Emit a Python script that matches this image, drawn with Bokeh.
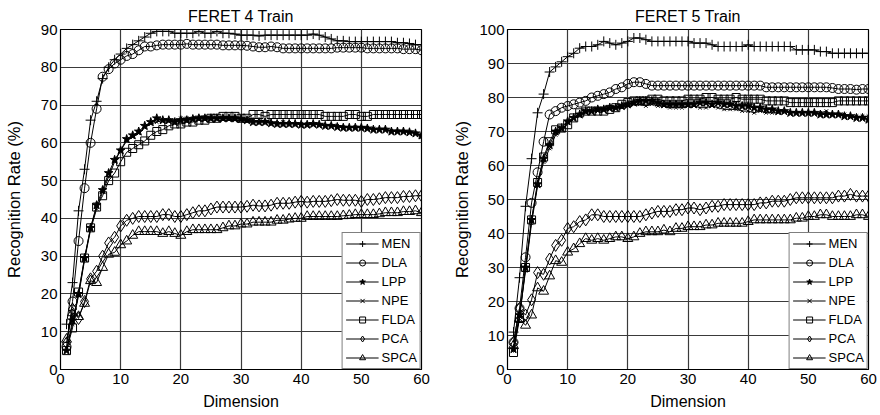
from bokeh.plotting import figure
from bokeh.layouts import row
from bokeh.models import Legend, LegendItem, FixedTicker, Range1d
from bokeh.embed import file_html
from bokeh.resources import INLINE

dims = list(range(1, 61))
methods = ["MEN", "DLA", "LPP", "NPE", "FLDA", "PCA", "SPCA"]
x_ticks = [0, 10, 20, 30, 40, 50, 60]
y_ticks_4 = [0, 10, 20, 30, 40, 50, 60, 70, 80, 90]
y_ticks_5 = [0, 10, 20, 30, 40, 50, 60, 70, 80, 90, 100]

# ---- FERET 4 Train ----
men4 = [12, 23, 42, 53, 66, 71, 77, 80, 82, 83.5,
        85, 86, 87, 88, 89, 89.5, 89.5, 89.5, 89, 89,
        89, 89, 89.5, 89, 89, 89.5, 89, 89, 88.8, 88.5,
        88.5, 88.5, 88.3, 88.5, 88.5, 88.5, 88.5, 88.5, 88.5, 88.5,
        88.5, 88.8, 88.5, 88, 87.5, 87, 87, 86.8, 86.8, 86.8,
        86.8, 86.8, 86.8, 86.8, 86.8, 86.5, 86.5, 86.3, 86, 86]
dla4 = [6, 18, 34, 48, 60, 69, 77.5, 79.5, 81, 82,
        83, 83.5, 84.5, 85.5, 85.5, 85.8, 86, 86, 86, 86,
        86.2, 86, 86, 86, 86, 86, 85.8, 85.8, 85.8, 85.8,
        85.7, 85.5, 85.3, 85.3, 85.5, 85.3, 85, 85, 85, 85,
        85, 85, 85, 85, 85, 85.2, 85.2, 85.2, 85.2, 85.2,
        85, 85, 85, 85, 85, 85, 84.8, 84.8, 84.8, 84.5]
lpp4 = [5, 13, 20, 29.5, 37.5, 43.5, 47.5, 52, 55.5, 58,
        61, 62, 63, 64.5, 65.5, 66.5, 66, 66, 65.5, 66,
        66, 66.3, 66.5, 66.5, 66.5, 66.5, 66.5, 66.5, 66.5, 66.3,
        66, 65.5, 65.5, 65.5, 65.2, 65, 65, 65, 65, 64.8,
        64.8, 65, 64.8, 64.5, 64.5, 64.2, 64, 64, 64, 64,
        63.8, 63.5, 63.5, 63.5, 63, 63, 63, 62.8, 62.5, 62]
npe4 = [5, 12, 19.5, 29, 37, 42.5, 47, 51, 55, 58,
        60.5, 61.5, 62.5, 64, 65, 65.5, 66, 66, 66, 66.5,
        66.5, 66.5, 66.5, 66.8, 66.8, 66.5, 66.5, 66.3, 66, 66,
        65.8, 65.8, 65.5, 65.5, 65.3, 65.3, 65.5, 65.3, 65, 65,
        65, 64.8, 64.8, 64.5, 64.5, 64.5, 64.2, 64, 64.2, 64,
        64, 63.8, 63.5, 63.5, 63.2, 63, 62.8, 62.8, 62.5, 61.5]
flda4 = [5, 11, 20.5, 29.5, 37.5, 43, 46, 50, 52, 55,
         57.5, 58.5, 59.5, 60.5, 62, 63, 63.5, 64.5, 65, 65,
         65.5, 65.5, 66, 66, 66.5, 66.5, 67, 67, 67, 66.5,
         66.5, 67.5, 67.5, 67, 67.5, 67.5, 67.5, 67.5, 67.5, 67.5,
         67.5, 67.5, 67.5, 67, 67, 67, 67, 67.5, 67.5, 67,
         67, 67.5, 67.5, 67.5, 67.5, 67.5, 67.5, 67.5, 67.5, 67.5]
pca4 = [7, 16, 13.5, 18, 24, 26, 30, 33.5, 35, 38,
        39.5, 40, 40.5, 40.5, 40.5, 40.5, 41, 41, 40.5, 40.5,
        41, 41.5, 42, 42, 42.5, 43, 43, 43, 43, 43,
        43.2, 43.5, 43.3, 43.3, 43.5, 44, 44, 44, 44.3, 44.5,
        44.3, 44.5, 44.5, 44.5, 44.7, 45, 44.8, 44.8, 44.8, 44.5,
        45, 45, 45.2, 45.5, 45.5, 45.5, 45.8, 45.8, 46, 46]
spca4 = [8, 15, 14, 17.5, 23.5, 23, 27, 30.5, 31, 33,
         34, 35.5, 36.5, 36.5, 36.5, 36.5, 36, 36.5, 36, 35.5,
         36.5, 37, 37, 37, 37, 37, 37.5, 38, 38, 38.5,
         38.5, 39, 39, 39, 39, 39.5, 39.5, 39.8, 40, 40,
         40.5, 40.5, 40.5, 40.5, 40.5, 40.5, 40.7, 40.8, 41, 41,
         41, 41, 41.2, 41.5, 41.5, 41.5, 41.8, 41.8, 42, 41.5]

# ---- FERET 5 Train ----
men5 = [11, 27, 48, 62, 75.5, 81, 87.5, 89, 90.5, 92,
        93, 94.5, 95, 95, 95.5, 96.5, 96, 95.5, 96, 96.5,
        97.5, 97.5, 97, 96.5, 96.5, 96.5, 96.5, 96.5, 96.5, 96.5,
        96, 96, 96, 95.5, 95, 95, 95, 95, 95, 95.5,
        95, 95, 95, 95, 95, 95, 95, 94, 94, 94,
        94, 93.5, 93.5, 93, 93, 93, 93, 93, 93, 93]
dla5 = [8, 18, 33, 49, 58, 67, 75, 76, 77, 77.5,
        78, 78.5, 79, 80, 80.5, 81, 81.5, 82.5, 83, 84,
        84.5, 84.5, 84, 83.5, 83.5, 83.5, 83.5, 83.5, 83.5, 83.5,
        83.5, 83.5, 83.5, 83.5, 83.5, 83.5, 83.5, 83.5, 83.5, 83.5,
        83.5, 83.5, 83, 83, 83, 83, 83, 83, 83, 83,
        83, 83, 83, 82.8, 82.5, 82.5, 82.5, 82.3, 82.5, 82.5]
lpp5 = [6, 16, 30, 44, 54.5, 62, 66, 70, 71, 73,
        74, 75, 76, 76, 76.5, 76.5, 77, 77, 77.5, 78,
        78.5, 79, 79, 79, 78.5, 78, 78, 78, 78, 78,
        78, 78.5, 78.5, 78, 78.5, 78, 78, 77.5, 77.5, 77.5,
        77, 77, 76.5, 76.5, 76, 76, 75.5, 75.5, 75.5, 75.5,
        75.5, 75, 75, 75, 75, 74.5, 74.5, 74, 74, 73.5]
npe5 = [6, 16, 29, 43, 54, 61, 65, 69, 70.5, 72.5,
        74, 75, 75.5, 76, 76, 76.5, 76.5, 77, 77, 77.5,
        78, 78, 77.5, 78, 77.5, 77.5, 77, 77, 77, 77.5,
        77.5, 77, 77, 77.5, 77, 76.5, 76.5, 76.5, 76, 76,
        75.5, 76, 75.5, 75.5, 75.5, 76, 75.5, 75.5, 75.5, 75.5,
        75.5, 75.5, 76, 75, 75, 75, 74.5, 74.5, 74.5, 74.5]
flda5 = [5, 15, 30, 44, 55, 62.5, 67, 70.5, 71, 72,
         74, 75.5, 76, 76, 76, 76, 76.5, 77, 78, 78.5,
         79, 79, 79, 79.5, 79.5, 79, 79, 79, 79, 79.5,
         79.5, 79.5, 80, 80, 79.5, 79.5, 79.5, 80, 79.5, 79.5,
         79.5, 79.5, 79, 79, 79, 79, 78.5, 78.5, 78.5, 78.5,
         78.5, 78.5, 78.5, 78.5, 79, 79, 79, 79, 79, 79]
pca5 = [8, 18, 16, 20.5, 28.5, 28, 32.5, 36.5, 38, 41.5,
        42, 43.5, 44, 45.5, 45.5, 45, 45, 45, 45, 45,
        45, 45, 45.5, 46, 46.5, 46.5, 46.5, 47, 47, 47.5,
        47.5, 47, 47.5, 48, 48, 48.5, 48.5, 48.5, 48.5, 48.5,
        48.5, 49, 49, 49.5, 49.5, 49.5, 50, 50.5, 50.5, 50.5,
        50.5, 50.5, 50.5, 50.5, 51, 51, 51.5, 51, 51, 51]
spca5 = [7, 15, 13, 16, 24, 23, 27.5, 32, 31.5, 34.5,
         35.5, 37, 38.5, 38, 38.5, 38, 38.5, 39, 39, 38.5,
         39, 40, 40.5, 40.5, 40.5, 41, 40.5, 41.5, 41.5, 42,
         42, 42, 42.5, 42.5, 43, 43, 43, 43, 43, 43.5,
         44, 44, 44, 44, 44, 44, 44, 44.5, 44.5, 45,
         45, 45.5, 45.5, 45, 45, 45, 45, 45.5, 45.5, 45]

FONT = "Liberation Sans"
marker_styles = {
    "MEN": dict(marker="cross", size=10, fill_color=None),
    "DLA": dict(marker="circle", size=9, fill_color=None),
    "LPP": dict(marker="star", size=9, fill_color="black"),
    "NPE": dict(marker="x", size=5, fill_color=None),
    "FLDA": dict(marker="square", size=8, fill_color=None),
    "PCA": dict(marker="diamond", size=12, fill_color=None),
    "SPCA": dict(marker="triangle", size=10, fill_color=None),
}


def make_panel(title, ymax, yticks, series, width, border_left, border_right, ylab_standoff):
    p = figure(width=width, height=415, output_backend="svg", toolbar_location=None,
               x_range=Range1d(0, 60), y_range=Range1d(0, ymax),
               min_border_left=border_left, min_border_right=border_right,
               min_border_top=29, min_border_bottom=46)
    p.title.text = title
    p.title.align = "center"
    p.title.text_font = FONT
    p.title.text_font_size = "16px"
    p.title.text_font_style = "normal"
    p.title.text_color = "black"
    p.title.standoff = 9
    p.outline_line_color = "black"
    p.outline_line_width = 1.2
    p.background_fill_color = "white"
    p.border_fill_color = "white"

    p.xaxis.ticker = FixedTicker(ticks=x_ticks)
    p.yaxis.ticker = FixedTicker(ticks=yticks)
    for ax in (p.xaxis[0], p.yaxis[0]):
        ax.major_tick_out = 0
        ax.major_tick_in = 0
        ax.minor_tick_out = 0
        ax.minor_tick_in = 0
        ax.axis_line_color = "black"
        ax.major_label_text_font = FONT
        ax.major_label_text_font_size = "15px"
        ax.major_label_text_color = "black"
        ax.axis_label_text_font = FONT
        ax.axis_label_text_font_style = "normal"
        ax.axis_label_text_color = "black"
    p.xaxis.axis_label = "Dimension"
    p.yaxis.axis_label = "Recognition Rate (%)"
    p.xaxis.axis_label_text_font_size = "16px"
    p.yaxis.axis_label_text_font_size = "16.5px"
    p.xaxis.major_label_standoff = 4
    p.yaxis.major_label_standoff = 3
    p.xaxis.axis_label_standoff = 6
    p.yaxis.axis_label_standoff = ylab_standoff

    p.xgrid.grid_line_color = "#3a3a3a"
    p.ygrid.grid_line_color = "#3a3a3a"
    p.xgrid.grid_line_width = 1.2
    p.ygrid.grid_line_width = 1.2

    items = []
    for name in methods:
        vals = series[name]
        ln = p.line(dims, vals, line_color="black", line_width=1)
        st = marker_styles[name]
        sc = p.scatter(dims, vals, marker=st["marker"], size=st["size"],
                       line_color="black", line_width=1, fill_color=st["fill_color"])
        items.append(LegendItem(label=name, renderers=[ln, sc]))

    legend = Legend(items=items, location="bottom_right", margin=0, padding=3, spacing=4,
                    glyph_width=33, glyph_height=15, label_height=15, label_standoff=3,
                    label_text_font=FONT, label_text_font_size="13px", label_text_color="black",
                    border_line_color="black", border_line_width=1.2,
                    background_fill_color="white", background_fill_alpha=1)
    p.add_layout(legend)
    return p


s4 = {"MEN": men4, "DLA": dla4, "LPP": lpp4, "NPE": npe4, "FLDA": flda4, "PCA": pca4, "SPCA": spca4}
s5 = {"MEN": men5, "DLA": dla5, "LPP": lpp5, "NPE": npe5, "FLDA": flda5, "PCA": pca5, "SPCA": spca5}

p1 = make_panel("FERET 4 Train", 90, y_ticks_4, s4, 438, 60, 17, 15)
p2 = make_panel("FERET 5 Train", 100, y_ticks_5, s5, 442, 69, 12, 5)

layout = row(p1, p2)
open("out.html", "w").write(file_html(layout, INLINE))
